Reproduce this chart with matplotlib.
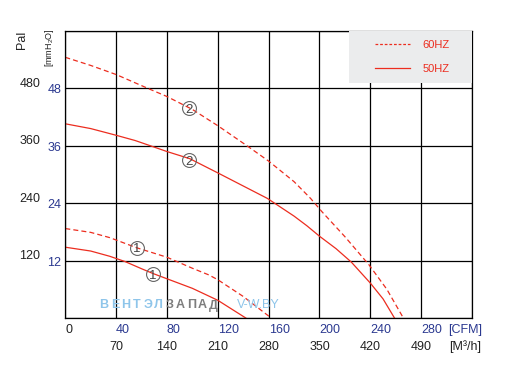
import matplotlib.pyplot as plt
import numpy as np

plt.rcParams['font.family'] = ['Liberation Sans', 'DejaVu Sans']
plt.rcParams['mathtext.default'] = 'regular'

# values (x in CFM, y in Pa)
cfm_2_60 = [0, 20, 40, 65, 80, 100, 120, 143, 160, 180, 193, 202, 220, 239, 253, 266]
pa_2_60 = [545, 528, 509, 480, 463, 436, 402, 360, 328, 285, 250, 222, 170, 111, 60, 0]
cfm_2_50 = [0, 20, 40, 55, 67, 80, 98, 121, 140, 159, 180, 190, 200, 213, 225, 240, 250, 259]
pa_2_50 = [406, 396, 382, 371, 360, 348, 333, 302, 276, 250, 213, 193, 171, 145, 117, 73, 40, 0]
cfm_1_60 = [0, 20, 35, 56, 80, 100, 113, 120, 140, 162]
pa_1_60 = [187, 179, 168, 147, 127, 104, 90, 80, 45, 0]
cfm_1_50 = [0, 20, 35, 47, 60, 69, 80, 100, 120, 142]
pa_1_50 = [148, 140, 129, 118, 103, 93, 82, 62, 37, 0]

# curve badges
badge_text = ['2', '2', '1', '1']
badge_cfm = [97, 97, 56.5, 69]
badge_pa = [438, 330, 147, 91]

cfm_ticks = [0, 40, 80, 120, 160, 200, 240, 280]
m3h_ticks = [70, 140, 210, 280, 350, 420, 490]
pa_ticks = [120, 240, 360, 480]
mm_ticks = [12, 24, 36, 48]

red = '#ec2d1f'
blue = '#2b3990'

fig = plt.figure(figsize=(5.15, 3.7), dpi=100)
ax = fig.add_axes([65.3 / 515, 52 / 370, 406.7 / 515, 287 / 370])
ax.set_xlim(0, 320)
ax.set_ylim(0, 600)
ax.set_xticks(np.arange(0, 321, 40))
ax.set_yticks(np.arange(0, 601, 120))
ax.tick_params(length=0, labelbottom=False, labelleft=False)
ax.grid(True, color='black', lw=0.9)
for s in ax.spines.values():
    s.set_linewidth(0.9)

ax.plot(cfm_2_60, pa_2_60, color=red, lw=0.9, ls=(0, (4, 2.5)))
ax.plot(cfm_2_50, pa_2_50, color=red, lw=0.9)
ax.plot(cfm_1_60, pa_1_60, color=red, lw=0.9, ls=(0, (4, 2.5)))
ax.plot(cfm_1_50, pa_1_50, color=red, lw=0.9)

for t, x, y in zip(badge_text, badge_cfm, badge_pa):
    ax.plot(x, y, 'o', ms=10, mfc='none', mec='#666666', mew=0.8, zorder=4)
    ax.text(x, y, t, ha='center', va='center_baseline', fontsize=9.5,
            color='#444444', zorder=5)

# legend box
box = plt.Rectangle((0.6976, 0.819), 0.3024, 0.181, transform=ax.transAxes,
                    fc='#ebeced', ec='none', zorder=3, clip_on=False)
ax.add_patch(box)
ax.plot([0.762, 0.848], [0.955, 0.955], transform=ax.transAxes, color=red,
        lw=0.9, ls=(0, (2.2, 1.5)), zorder=4)
ax.plot([0.762, 0.848], [0.872, 0.872], transform=ax.transAxes, color=red,
        lw=0.9, zorder=4)
ax.text(0.878, 0.952, '60HZ', transform=ax.transAxes, color=red, fontsize=8,
        va='center', zorder=4)
ax.text(0.878, 0.869, '50HZ', transform=ax.transAxes, color=red, fontsize=8,
        va='center', zorder=4)

# y labels
for v in pa_ticks:
    ax.annotate(str(v), xy=(0, v), xytext=(-25, 4.5), textcoords='offset pixels',
                ha='right', va='center', fontsize=9, color='#222222')
for v, p in zip(mm_ticks, pa_ticks):
    ax.annotate(str(v), xy=(0, p), xytext=(-4, -2), textcoords='offset pixels',
                ha='right', va='center', fontsize=9, color=blue)
fig.text(22 / 515, 1 - 40 / 370, 'Pal', rotation=90, ha='center', va='center',
         fontsize=9, color='#222222')
fig.text(49 / 515, 1 - 48 / 370, '[mmH$_2$O]', rotation=90, ha='center',
         va='center', fontsize=6.5, color='#222222')

# x labels
for v in cfm_ticks:
    ax.annotate(str(v), xy=(v, 0), xytext=(0, -12), textcoords='offset pixels',
                ha='left', va='center', fontsize=9,
                color='#222222' if v == 0 else blue)
ax.annotate('[CFM]', xy=(320, 0), xytext=(-24, -12), textcoords='offset pixels',
            ha='left', va='center', fontsize=9, color=blue)
for v, c in zip(m3h_ticks, cfm_ticks[1:]):
    ax.annotate(str(v), xy=(c, 0), xytext=(0, -29), textcoords='offset pixels',
                ha='center', va='center', fontsize=9, color='#222222')
ax.annotate('[M³/h]', xy=(320, 0), xytext=(-23, -29), textcoords='offset pixels',
            ha='left', va='center', fontsize=9, color='#222222')

# watermark
wm = 'ВЕНТЭЛЗАПАД'
for i, ch in enumerate(wm):
    fig.text((104 + i * 10.9) / 515, 1 - 305.5 / 370, ch, ha='center', va='center',
             fontsize=9, fontweight='bold',
             color='#8ec5ea' if i < 6 else '#7d7d7d')
fig.text(258.5 / 515, 1 - 305.5 / 370, 'V-W.BY', ha='center', va='center',
         fontsize=9, color='#8ec5ea')

fig.savefig('out.png', dpi=100)
